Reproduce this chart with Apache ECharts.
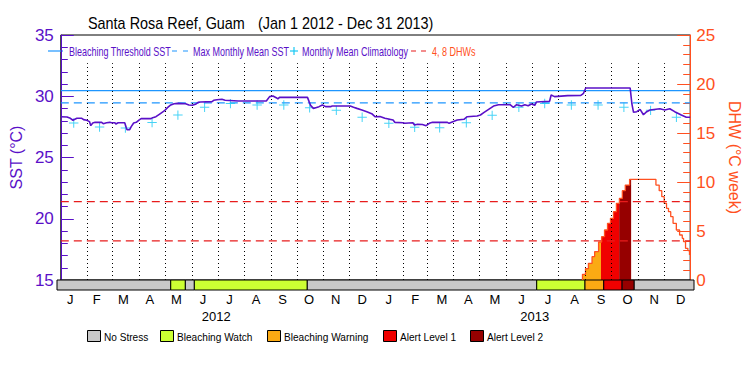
<!DOCTYPE html>
<html><head><meta charset="utf-8">
<script src="https://cdn.jsdelivr.net/npm/echarts@6/dist/echarts.min.js"></script>
<style>html,body{margin:0;padding:0;background:#fff}#c{width:750px;height:375px}</style>
</head><body><div id="c"></div>
<script>
// ---------------- DATA ----------------
// x values are days since 2012-01-01 (2012 is a leap year; 731 days total)
const monthLabels = ['J','F','M','A','M','J','J','A','S','O','N','D','J','F','M','A','M','J','J','A','S','O','N','D'];
const yearLabels = ['2012','2013'];
const monthStartDays = [31,60,91,121,152,182,213,244,274,305,335,366,397,425,456,486,517,547,578,609,639,670,700];

const sstDays = [0,7.2,11.1,14.1,16.9,18.7,24.4,26.4,30.2,33.3,34.8,37.1,39.8,47.4,49.3,53.1,57.0,58.9,62.8,63.9,66.6,74.2,76.1,76.9,80.0,81.8,84.6,87.6,91.5,93.3,104.8,106.7,110.5,114.4,120.1,123.9,127.7,131.6,135.4,144.9,148.8,152.6,156.4,159.5,162.2,175.6,177.6,181.3,187.1,190.8,206.2,238.7,242.5,246.4,250.2,252.1,254.0,286.5,288.4,290.3,293.4,296.1,299.9,303.8,307.5,313.3,315.2,336.2,340.0,343.9,349.7,355.4,361.1,364.9,370.7,376.4,385.9,387.9,397.4,399.4,408.9,410.8,414.3,420.0,424.3,428.0,431.8,449.0,451.0,456.7,460.5,468.2,472.0,483.5,487.4,491.2,496.9,502.6,508.4,521.8,525.6,529.4,535.1,539.0,542.8,546.6,550.5,552.3,567.7,569.5,573.4,588.7,604.0,607.1,609.7,661.3,663.3,665.2,669.0,672.8,676.7,680.5,684.3,695.8,701.5,707.3,713.0,720.7,726.5,731];
const sstValues = [28.33,28.31,28.20,28.04,28.14,28.20,28.20,28.09,28.04,27.93,27.60,27.82,27.87,27.87,27.76,27.84,27.87,27.84,27.84,27.73,27.84,27.84,27.43,27.27,27.27,27.52,27.82,27.87,28.09,28.17,28.17,28.25,28.33,28.52,28.80,29.07,29.29,29.39,29.42,29.39,29.29,29.26,29.34,29.50,29.53,29.56,29.67,29.72,29.75,29.67,29.61,29.61,29.97,30.02,29.88,29.78,29.91,29.91,29.56,29.23,29.01,29.07,29.15,29.29,29.15,29.15,29.20,29.20,29.10,29.01,28.88,28.74,28.58,28.33,28.35,28.20,28.06,27.87,27.84,27.79,27.84,27.65,27.71,27.70,27.60,27.79,27.87,27.87,27.79,27.95,28.06,28.12,28.33,28.39,28.47,28.66,28.93,29.20,29.31,29.31,29.10,29.31,29.20,29.31,29.23,29.37,29.26,29.53,29.59,30.10,29.97,30.05,30.07,30.24,30.67,30.67,29.37,28.69,28.74,28.93,28.49,28.74,28.88,28.98,28.88,28.98,28.74,28.47,28.28,28.28];

const climDays = [15,45,75,106,136,167,197,228,259,289,320,350,381,411,440,471,501,532,562,593,624,654,685,715];
const climValues = [27.82,27.48,27.40,27.86,28.46,29.10,29.40,29.29,29.29,29.06,28.85,28.28,27.80,27.46,27.43,27.84,28.44,29.10,29.41,29.29,29.29,29.10,28.85,28.28];

const mmmSST = 29.46;
const bleachThreshold = 30.46;
const dhwGuides = [4, 8];

const dhwDays = [605.9,605.9,609.4,612.8,617.0,620.0,624.6,628.1,631.5,635.0,638.4,641.9,645.3,648.8,652.2,655.6,660.6,691.2,695.0,698.0,700.8,703.5,705.8,708.4,711.1,714.9,718.7,721.8,723.3,725.6,728.3,730.2,731];
const dhwValues = [0,0.58,1.16,1.70,2.38,2.89,3.88,4.42,5.10,5.78,6.29,6.97,7.82,8.33,9.11,9.69,10.27,9.69,9.11,8.50,7.82,7.31,6.97,6.46,5.78,5.10,4.59,4.25,3.91,3.23,3.00,2.55,2.55];

// stress level: 0 no stress, 1 watch, 2 warning, 3 alert 1, 4 alert 2
const stressStart = [0,130.5,147.3,157.6,287.2,550.5,605.9,627.4,648.5,662.4];
const stressEnd   = [130.5,147.3,157.6,287.2,550.5,605.9,627.4,648.5,662.4,731];
const stressLevel = [0,1,0,1,0,1,2,3,4,0];
const stressNames = ['No Stress','Bleaching Watch','Bleaching Warning','Alert Level 1','Alert Level 2'];

// ---------------- STYLE ----------------
const C_PURPLE = '#5a10c8';
const C_BLUE = '#1e96ff';
const C_CYAN = '#18c8f4';
const C_ORANGE = '#ff5020';
const C_RED = '#e81c1c';
const stressColors = ['#c8c8c8','#ccff33','#fbaa13','#f00000','#960000'];
const FONT = "'Liberation Sans', Arial, sans-serif";
const DAYS = 731;

const chart = echarts.init(document.getElementById('c'), null, {renderer:'svg'});

const sstData = sstDays.map((d,i)=>[d, sstValues[i]]);
const climData = climDays.map((d,i)=>[d, climValues[i]]);
const dhwData = dhwDays.map((d,i)=>[d, dhwValues[i]]);
const stressData = stressStart.map((s,i)=>[s, stressEnd[i], stressLevel[i]]);
const fillData = stressData.filter(r=>r[2]>=2);

function renderStress(params, api){
  const p0 = api.coord([api.value(0), 1]);
  const p1 = api.coord([api.value(1), 0]);
  return {type:'rect', shape:{x:p0[0], y:p0[1], width:p1[0]-p0[0], height:p1[1]-p0[1]},
    style:{fill: stressColors[api.value(2)], stroke:'#000', lineWidth:1}};
}
function renderFill(params, api){
  const s = api.value(0), e = api.value(1), lvl = api.value(2);
  const pts = [api.coord([s, 0])];
  for (let i=0;i<dhwDays.length;i++){
    const d0 = dhwDays[i], d1 = i+1<dhwDays.length ? dhwDays[i+1] : DAYS;
    const a = Math.max(d0,s), b = Math.min(d1,e);
    if (b<=a) continue;
    pts.push(api.coord([a, dhwValues[i]]));
    pts.push(api.coord([b, dhwValues[i]]));
  }
  pts.push(api.coord([e, 0]));
  return {type:'polygon', shape:{points:pts}, style:{fill: stressColors[lvl]}};
}
function renderMonthLine(params, api){
  const d = api.value(0);
  const p0 = api.coord([d, 15]), p1 = api.coord([d, 32.7]);
  return {type:'line', shape:{x1:Math.round(p0[0])+0.5, y1:p0[1], x2:Math.round(p1[0])+0.5, y2:p1[1]},
    style:{stroke:'#000', lineWidth:1, lineDash:[1,3]}};
}

const plusPath = 'path://M4.2,0h1v9.4h-1zM0,4.2h9.4v1h-9.4z';
const LEG_SX = 0.75;

const graphics = [
  {type:'text', left:88, top:15, style:{text:'Santa Rosa Reef, Guam', font:'16px '+FONT, fill:'#000'}, scaleX:0.9},
  {type:'text', left:258, top:15, style:{text:'(Jan 1 2012 - Dec 31 2013)', font:'16px '+FONT, fill:'#000'}, scaleX:0.9},
  // top legend
  {type:'line', shape:{x1:48,y1:51,x2:63,y2:51}, style:{stroke:C_BLUE, lineWidth:1.2}},
  {type:'text', x:69, y:51, scaleX:LEG_SX, style:{text:'Bleaching Threshold SST', font:'12px '+FONT, fill:C_PURPLE, verticalAlign:'middle'}},
  {type:'line', shape:{x1:172,y1:51,x2:188,y2:51}, style:{stroke:C_BLUE, lineWidth:1.2, lineDash:[5,6]}},
  {type:'text', x:193, y:51, scaleX:LEG_SX, style:{text:'Max Monthly Mean SST', font:'12px '+FONT, fill:C_PURPLE, verticalAlign:'middle'}},
  {type:'line', shape:{x1:290,y1:51,x2:298,y2:51}, style:{stroke:C_CYAN, lineWidth:1.2}},
  {type:'line', shape:{x1:294,y1:47,x2:294,y2:55}, style:{stroke:C_CYAN, lineWidth:1.2}},
  {type:'text', x:302, y:51, scaleX:LEG_SX, style:{text:'Monthly Mean Climatology', font:'12px '+FONT, fill:C_PURPLE, verticalAlign:'middle'}},
  {type:'line', shape:{x1:411,y1:51,x2:427,y2:51}, style:{stroke:C_RED, lineWidth:1.2, lineDash:[5,5]}},
  {type:'text', x:432, y:51, scaleX:LEG_SX, style:{text:'4, 8 DHWs', font:'12px '+FONT, fill:C_ORANGE, verticalAlign:'middle'}}
];
// bottom legend
const legX = [87,160,267,383,470];
stressNames.forEach((n,i)=>{
  graphics.push({type:'rect', shape:{x:legX[i]+0.5, y:330.5, width:13, height:11}, style:{fill:stressColors[i], stroke:'#000', lineWidth:1}});
  graphics.push({type:'text', x:legX[i]+17, y:336.5, scaleX:0.92, style:{text:n, font:'11px '+FONT, fill:'#000', verticalAlign:'middle'}});
});

const option = {
  animation:false,
  backgroundColor:'#fff',
  graphic: graphics,
  grid:[
    {left:57, top:35, width:637, height:245, show:true, borderColor:'#000', borderWidth:1, backgroundColor:'transparent'},
    {left:57, top:280, width:637, height:10}
  ],
  xAxis:[
    {gridIndex:0, type:'value', min:0, max:DAYS, axisLine:{show:true, lineStyle:{color:'#000', width:1}}, axisTick:{show:false}, axisLabel:{show:false}, splitLine:{show:false}},
    {gridIndex:1, type:'value', min:0, max:DAYS, show:false},
    {gridIndex:1, type:'category', data:monthLabels, position:'bottom', axisLine:{show:false}, axisTick:{show:false},
      axisLabel:{interval:0, margin:3, color:'#000', fontSize:13, fontFamily:FONT}},
    {gridIndex:1, type:'category', data:yearLabels, position:'bottom', offset:17, axisLine:{show:false}, axisTick:{show:false},
      axisLabel:{interval:0, margin:3, color:'#000', fontSize:13, fontFamily:FONT}}
  ],
  yAxis:[
    {gridIndex:0, type:'value', position:'left', min:15, max:35, interval:5,
      name:'SST (°C)', nameLocation:'middle', nameGap:33, nameRotate:90,
      nameTextStyle:{color:C_PURPLE, fontSize:16, fontFamily:FONT},
      axisLine:{show:true, lineStyle:{color:C_PURPLE, width:1}},
      axisTick:{show:true, inside:true, length:13, lineStyle:{color:C_PURPLE}},
      minorTick:{show:true, splitNumber:5, length:7, lineStyle:{color:C_PURPLE}},
      axisLabel:{color:C_PURPLE, fontSize:17, fontFamily:FONT, margin:7},
      splitLine:{show:false}},
    {gridIndex:0, type:'value', position:'right', min:0, max:25, interval:5,
      name:'DHW (°C week)', nameLocation:'middle', nameGap:31, nameRotate:-90,
      nameTextStyle:{color:C_ORANGE, fontSize:16, fontFamily:FONT},
      axisLine:{show:true, lineStyle:{color:C_ORANGE, width:1}},
      axisTick:{show:true, inside:true, length:13, lineStyle:{color:C_ORANGE}},
      minorTick:{show:true, splitNumber:5, length:7, lineStyle:{color:C_ORANGE}},
      axisLabel:{color:C_ORANGE, fontSize:17, fontFamily:FONT, margin:6},
      splitLine:{show:false}},
    {gridIndex:1, type:'value', min:0, max:1, show:false}
  ],
  series:[
    {type:'custom', name:'stress', xAxisIndex:1, yAxisIndex:2, renderItem:renderStress, data:stressData, encode:{x:[0,1]}, z:3},
    {type:'custom', name:'dhwFill', xAxisIndex:0, yAxisIndex:1, renderItem:renderFill, data:fillData, encode:{x:[0,1]}, z:2},
    {type:'line', name:'8 DHW', xAxisIndex:0, yAxisIndex:1, data:[[0,dhwGuides[1]],[DAYS,dhwGuides[1]]], showSymbol:false,
      lineStyle:{color:C_RED, width:1.2, type:[8,5]}, z:3},
    {type:'line', name:'4 DHW', xAxisIndex:0, yAxisIndex:1, data:[[0,dhwGuides[0]],[DAYS,dhwGuides[0]]], showSymbol:false,
      lineStyle:{color:C_RED, width:1.2, type:[8,5]}, z:3},
    {type:'line', name:'DHW', xAxisIndex:0, yAxisIndex:1, data:dhwData, step:'end', showSymbol:false,
      lineStyle:{color:C_ORANGE, width:1.3}, z:4},
    {type:'custom', name:'months', xAxisIndex:0, yAxisIndex:0, renderItem:renderMonthLine, data:monthStartDays.map(d=>[d]), encode:{x:0}, z:5},
    {type:'line', name:'Bleaching Threshold SST', xAxisIndex:0, yAxisIndex:0, data:[[0,bleachThreshold],[DAYS,bleachThreshold]], showSymbol:false,
      lineStyle:{color:C_BLUE, width:1.2}, z:4},
    {type:'line', name:'Max Monthly Mean SST', xAxisIndex:0, yAxisIndex:0, data:[[0,mmmSST],[DAYS,mmmSST]], showSymbol:false,
      lineStyle:{color:C_BLUE, width:1.2, type:[8,5]}, z:4},
    {type:'scatter', name:'Monthly Mean Climatology', xAxisIndex:0, yAxisIndex:0, data:climData, symbol:plusPath, symbolSize:9.4,
      itemStyle:{color:C_CYAN}, z:6},
    {type:'line', name:'SST', xAxisIndex:0, yAxisIndex:0, data:sstData, showSymbol:false,
      lineStyle:{color:C_PURPLE, width:1.6}, z:7}
  ]
};
chart.setOption(option);
</script>
</body></html>
